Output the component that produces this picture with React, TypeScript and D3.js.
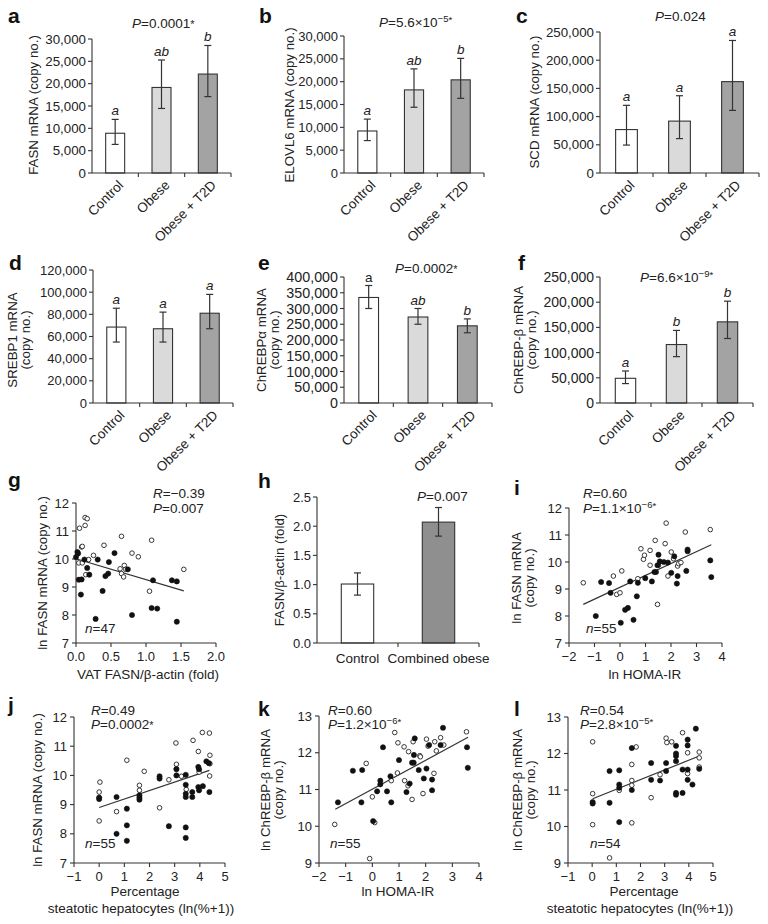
import React from "react";
import * as d3 from "d3";

const FONT = "'Liberation Sans', Arial, sans-serif";
const TXT = "#222";

// ---------- bar data ----------
const cats3 = ["Control", "Obese", "Obese + T2D"];
const fills3 = ["#ffffff", "#dadada", "#a3a3a3"];

const fasnMean = [8900, 19150, 22150];
const fasnLo = [6400, 14450, 17100];
const fasnHi = [12000, 25300, 28550];

const elovlMean = [9200, 18200, 20400];
const elovlLo = [7100, 14400, 16350];
const elovlHi = [11800, 22800, 25100];

const scdMean = [77000, 92000, 162000];
const scdLo = [49500, 61000, 111000];
const scdHi = [120000, 137000, 235000];

const srebpMean = [68500, 67000, 81000];
const srebpLo = [55000, 55000, 67000];
const srebpHi = [85500, 82000, 98000];

const chrebpaMean = [335000, 273000, 245000];
const chrebpaLo = [300000, 250000, 223000];
const chrebpaHi = [373000, 300000, 267000];

const chrebpbMean = [49000, 116000, 161000];
const chrebpbLo = [38500, 92000, 128000];
const chrebpbHi = [63500, 144000, 202000];

const cats2 = ["Control", "Combined obese"];
const fills2 = ["#ffffff", "#8f8f8f"];
const vatMean = [1.01, 2.07];
const vatLo = [0.82, 1.83];
const vatHi = [1.2, 2.32];

// ---------- scatter data ----------
const gOpen: [number, number][] = [
  [0.05, 11.1], [0.13, 11.48], [0.16, 11.44], [0.13, 11.2], [0.08, 10.43], [0.09, 10.45],
  [0.04, 9.86], [0.09, 9.86], [0.14, 9.44], [0.18, 9.98], [0.25, 10.13], [0.4, 10.49],
  [0.65, 10.81], [0.63, 9.65], [0.65, 9.48], [0.68, 9.36], [0.69, 9.77], [0.71, 9.63],
  [0.8, 10.21], [0.89, 10.08], [1.08, 10.67], [1.05, 8.85], [1.54, 9.63],
];
const gFilled: [number, number][] = [
  [0.02, 10.25], [0.0, 10.07], [0.03, 10.2], [0.04, 9.26], [0.08, 9.27], [0.07, 8.73],
  [0.12, 9.98], [0.16, 9.68], [0.19, 9.44], [0.31, 9.98], [0.28, 7.86], [0.38, 8.86],
  [0.42, 9.39], [0.46, 9.48], [0.47, 9.89], [0.55, 10.21], [0.74, 9.63], [0.8, 8.0],
  [1.08, 8.25], [1.1, 9.24], [1.16, 8.23], [1.37, 9.24], [1.44, 9.2], [1.44, 7.76],
];
const gFit = [0.01, 10.0, 1.54, 8.86];

const iOpen: [number, number][] = [
  [-1.44, 9.23], [-0.26, 9.48], [-0.13, 8.8], [0.0, 8.86], [0.07, 9.67], [0.7, 9.38],
  [0.82, 10.49], [0.92, 10.1], [0.96, 10.25], [1.18, 10.43], [1.18, 9.88], [1.38, 10.8],
  [1.47, 8.43], [1.51, 9.88], [1.77, 10.68], [1.81, 11.44], [1.88, 9.48], [2.01, 10.37],
  [2.1, 10.12], [2.26, 9.85], [2.3, 9.94], [2.39, 9.98], [2.56, 11.11], [3.54, 11.2],
];
const iFilled: [number, number][] = [
  [-0.95, 8.0], [-0.74, 9.26], [-0.43, 9.22], [-0.37, 8.86], [0.03, 7.75], [0.2, 8.23],
  [0.31, 8.3], [0.4, 9.28], [0.53, 7.86], [0.66, 8.73], [0.7, 9.23], [0.99, 9.4],
  [1.25, 9.28], [1.35, 9.63], [1.41, 9.63], [1.47, 9.88], [1.51, 10.27], [1.56, 10.02],
  [1.72, 10.0], [1.88, 9.98], [2.01, 9.6], [2.13, 10.21], [2.23, 9.2], [2.26, 9.48],
  [2.6, 9.67], [2.65, 10.46], [2.65, 10.4], [3.54, 10.06], [3.58, 9.44],
];
const iFit = [-1.44, 8.43, 3.58, 10.64];

const jOpen: [number, number][] = [
  [0.03, 9.77], [0.0, 9.43], [0.0, 8.44], [0.69, 8.76], [1.1, 10.52], [1.79, 10.14],
  [1.6, 9.66], [1.6, 9.49], [2.4, 8.89], [2.77, 9.85], [3.05, 11.11], [3.07, 10.38],
  [3.07, 10.23], [3.27, 9.97], [3.46, 9.52], [3.73, 11.2], [3.94, 10.82], [3.97, 10.11],
  [4.1, 11.47], [4.38, 11.45], [4.4, 10.69], [4.4, 10.4], [4.39, 9.98],
];
const jFilled: [number, number][] = [
  [0.0, 9.24], [0.0, 9.19], [0.69, 9.26], [0.69, 8.0], [1.1, 8.86], [1.1, 8.29],
  [1.1, 7.76], [1.6, 9.32], [1.6, 9.24], [1.6, 9.17], [2.4, 9.97], [2.4, 9.89],
  [2.77, 8.26], [3.07, 10.21], [3.07, 10.0], [3.44, 10.02], [3.44, 9.68], [3.44, 9.37],
  [3.44, 9.26], [3.44, 8.22], [3.44, 7.86], [3.7, 9.43], [3.7, 9.26], [3.94, 9.6],
  [3.97, 9.49], [3.94, 10.29], [3.97, 10.21], [4.12, 9.63], [4.26, 10.48], [4.36, 10.42],
  [4.38, 9.43],
];
const jFit = [0.0, 8.9, 4.38, 10.17];

const kOpen: [number, number][] = [
  [-1.41, 10.05], [-0.23, 11.71], [-0.1, 9.12], [0.0, 10.8], [0.09, 10.1], [0.71, 11.24],
  [0.84, 12.55], [0.96, 12.27], [0.94, 11.45], [1.19, 12.16], [1.21, 11.24], [1.34, 11.1],
  [1.36, 12.03], [1.49, 10.73], [1.53, 12.3], [1.78, 11.92], [1.8, 11.89], [1.9, 10.89],
  [2.03, 12.37], [2.09, 12.18], [2.31, 11.44], [2.34, 12.3], [2.4, 12.05], [2.56, 12.41],
  [2.68, 12.21], [3.53, 12.57],
];
const kFilled: [number, number][] = [
  [-1.29, 10.65], [-0.73, 11.51], [-0.38, 11.53], [-0.41, 10.65], [0.03, 10.14], [0.18, 10.95],
  [0.3, 11.24], [0.3, 11.14], [0.4, 12.15], [0.55, 10.95], [0.68, 11.36], [0.71, 10.65],
  [1.0, 11.8], [1.28, 10.93], [1.4, 11.16], [1.49, 11.73], [1.55, 11.73], [1.56, 11.94],
  [1.59, 12.39], [1.74, 11.53], [1.93, 11.3], [2.03, 11.57], [2.13, 12.21], [2.24, 11.27],
  [2.24, 10.98], [2.56, 12.21], [2.65, 12.68], [3.55, 12.15], [3.58, 11.59],
];
const kFit = [-1.39, 10.46, 3.59, 12.42];

const lOpen: [number, number][] = [
  [0.02, 12.32], [0.02, 10.9], [0.02, 10.05], [0.72, 9.14], [1.12, 10.99], [1.64, 11.7],
  [1.64, 11.26], [1.64, 11.13], [1.64, 10.1], [1.82, 12.18], [2.44, 10.79], [2.81, 11.42],
  [3.06, 12.42], [3.09, 12.3], [3.29, 12.32], [3.74, 12.57], [3.95, 12.02], [3.95, 11.45],
  [4.43, 12.04], [4.43, 11.88], [4.43, 11.63],
];
const lFilled: [number, number][] = [
  [0.02, 10.67], [0.02, 10.63], [0.72, 11.52], [0.72, 10.65], [1.12, 11.54], [1.12, 11.15],
  [1.12, 11.06], [1.12, 10.12], [1.64, 12.15], [1.64, 11.0], [2.44, 11.74], [2.44, 11.28],
  [2.81, 11.26], [3.06, 11.74], [3.06, 11.52], [3.47, 12.21], [3.47, 12.0], [3.47, 11.93],
  [3.47, 11.79], [3.47, 10.92], [3.47, 10.87], [3.74, 11.56], [3.74, 10.92], [3.95, 12.38],
  [3.95, 12.22], [3.95, 11.56], [3.95, 11.28], [4.15, 11.15], [4.29, 12.68], [4.43, 11.58],
];
const lFit = [0.02, 10.76, 4.43, 11.93];

// ---------- helpers ----------
type StatProps = { x: number; y: number; label: string; main: string; sup?: string; star?: boolean };
function Stat({ x, y, label, main, sup, star }: StatProps) {
  return (
    <text x={x} y={y} fontSize={13.5} fill={TXT} fontFamily={FONT}>
      <tspan fontStyle="italic">{label}</tspan>
      <tspan>{main}</tspan>
      {sup && (
        <tspan dy={-5} fontSize={9.5}>
          {sup}
        </tspan>
      )}
      {star && <tspan fontSize={sup ? 9.5 : 11} dy={sup ? 1 : 0}>*</tspan>}
    </text>
  );
}

function PanelLetter({ x, y, t }: { x: number; y: number; t: string }) {
  return (
    <text x={x} y={y} fontSize={21} fontWeight="bold" fill="#111" fontFamily={FONT}>
      {t}
    </text>
  );
}

function YTitle({ x, y, lines, gap = 13.5 }: { x: number; y: number; lines: string[]; gap?: number }) {
  return (
    <g transform={`translate(${x},${y}) rotate(-90)`}>
      {lines.map((l, i) => (
        <text
          key={i}
          x={0}
          y={(i - (lines.length - 1) / 2) * gap}
          textAnchor="middle"
          dominantBaseline="central"
          fontSize={13.3}
          fill={TXT}
          fontFamily={FONT}
        >
          {l}
        </text>
      ))}
    </g>
  );
}

type BarCfg = {
  x0: number; x1: number; yTop: number; yBot: number; max: number; step: number;
  cats: string[]; fills: string[]; mean: number[]; lo: number[]; hi: number[];
  letters?: string[]; italicLetters?: boolean[]; rotate: boolean; pad: number;
  tickFmt: (v: number) => string; tickSize: number;
};

function BarPanel({ c }: { c: BarCfg }) {
  const x = d3.scaleBand<string>().domain(c.cats).range([c.x0, c.x1]).paddingInner(c.pad).paddingOuter(c.pad / 2);
  const y = d3.scaleLinear().domain([0, c.max]).range([c.yBot, c.yTop]);
  const ticks = d3.range(0, c.max + c.step / 2, c.step);
  const stepW = x.step();
  const bw = x.bandwidth();
  return (
    <g fontFamily={FONT}>
      {c.cats.map((k, i) => {
        const cx = (x(k) as number) + bw / 2;
        return (
          <g key={k}>
            <rect x={x(k)} y={y(c.mean[i])} width={bw} height={c.yBot - y(c.mean[i])} fill={c.fills[i]} stroke="#333" strokeWidth={1.1} />
            <line x1={cx} x2={cx} y1={y(c.lo[i])} y2={y(c.hi[i])} stroke="#333" strokeWidth={1.2} />
            <line x1={cx - 3.5} x2={cx + 3.5} y1={y(c.lo[i])} y2={y(c.lo[i])} stroke="#333" strokeWidth={1.2} />
            <line x1={cx - 3.5} x2={cx + 3.5} y1={y(c.hi[i])} y2={y(c.hi[i])} stroke="#333" strokeWidth={1.2} />
            {c.letters && (
              <text x={cx} y={y(c.hi[i]) - 4} textAnchor="middle" fontSize={13.5} fill={TXT}
                fontStyle={c.italicLetters && !c.italicLetters[i] ? "normal" : "italic"}>
                {c.letters[i]}
              </text>
            )}
            {c.rotate ? (
              <text transform={`translate(${cx + 9},${c.yBot + 13}) rotate(-45)`} textAnchor="end" fontSize={13.5} fill={TXT}>
                {k}
              </text>
            ) : (
              <text x={cx} y={c.yBot + 20} textAnchor="middle" fontSize={13.5} fill={TXT}>
                {k}
              </text>
            )}
          </g>
        );
      })}
      <line x1={c.x0} x2={c.x0} y1={c.yTop} y2={c.yBot} stroke="#333" strokeWidth={1.1} />
      <line x1={c.x0} x2={c.x1} y1={c.yBot} y2={c.yBot} stroke="#333" strokeWidth={1.1} />
      {ticks.map((t) => (
        <g key={t}>
          <line x1={c.x0 - 4} x2={c.x0} y1={y(t)} y2={y(t)} stroke="#333" strokeWidth={1.1} />
          <text x={c.x0 - 6} y={y(t)} textAnchor="end" dominantBaseline="central" fontSize={c.tickSize} fill={TXT}>
            {c.tickFmt(t)}
          </text>
        </g>
      ))}
      {c.cats.map((k, i) => (
        <line key={k} x1={c.x0 + (i + 1) * stepW} x2={c.x0 + (i + 1) * stepW} y1={c.yBot} y2={c.yBot + 4} stroke="#333" strokeWidth={1.1} />
      ))}
    </g>
  );
}

type ScCfg = {
  xd: [number, number]; xr: [number, number]; yd: [number, number]; yr: [number, number];
  xStep: number; yStep: number; open: [number, number][]; filled: [number, number][];
  fit: number[]; xFmt: (v: number) => string;
};

function ScatterPanel({ c }: { c: ScCfg }) {
  const x = d3.scaleLinear().domain(c.xd).range(c.xr);
  const y = d3.scaleLinear().domain(c.yd).range(c.yr);
  const xt = d3.range(c.xd[0], c.xd[1] + c.xStep / 2, c.xStep);
  const yt = d3.range(c.yd[0], c.yd[1] + c.yStep / 2, c.yStep);
  const line = d3.line<[number, number]>().x((d) => x(d[0])).y((d) => y(d[1]));
  const fitPts: [number, number][] = [[c.fit[0], c.fit[1]], [c.fit[2], c.fit[3]]];
  return (
    <g fontFamily={FONT}>
      <line x1={c.xr[0]} x2={c.xr[0]} y1={c.yr[0]} y2={c.yr[1]} stroke="#333" strokeWidth={1.1} />
      <line x1={c.xr[0]} x2={c.xr[1]} y1={c.yr[0]} y2={c.yr[0]} stroke="#333" strokeWidth={1.1} />
      {yt.map((t) => (
        <g key={"y" + t}>
          <line x1={c.xr[0] - 4} x2={c.xr[0]} y1={y(t)} y2={y(t)} stroke="#333" strokeWidth={1.1} />
          <text x={c.xr[0] - 7} y={y(t)} textAnchor="end" dominantBaseline="central" fontSize={13} fill={TXT}>
            {t}
          </text>
        </g>
      ))}
      {xt.map((t) => (
        <g key={"x" + t}>
          <line x1={x(t)} x2={x(t)} y1={c.yr[0]} y2={c.yr[0] + 4} stroke="#333" strokeWidth={1.1} />
          <text x={x(t)} y={c.yr[0] + 18} textAnchor="middle" fontSize={13} fill={TXT}>
            {c.xFmt(t)}
          </text>
        </g>
      ))}
      <path d={line(fitPts) || ""} stroke="#333" strokeWidth={1.2} fill="none" />
      {c.open.map((d, i) => (
        <circle key={"o" + i} cx={x(d[0])} cy={y(d[1])} r={2.3} fill="#fff" stroke="#222" strokeWidth={0.9} />
      ))}
      {c.filled.map((d, i) => (
        <circle key={"f" + i} cx={x(d[0])} cy={y(d[1])} r={2.6} fill="#111" stroke="#111" strokeWidth={0.6} />
      ))}
    </g>
  );
}

const comma = d3.format(",");
const oneDec = d3.format(".1f");
const minusInt = (v: number) => (v < 0 ? "\u2212" + Math.abs(v) : String(v));

export default function App() {
  return (
    <svg width={768} height={924} style={{ position: "absolute", left: 0, top: 0, background: "#fff" }}>
      <rect width={768} height={924} fill="#fff" />
      {/* a */}
      <PanelLetter x={8} y={23} t="a" />
      <Stat x={132} y={28} label="P" main="=0.0001" star />
      <YTitle x={33} y={105} lines={["FASN mRNA (copy no.)"]} />
      <BarPanel c={{ x0: 92, x1: 231, yTop: 39, yBot: 173, max: 30000, step: 5000, cats: cats3, fills: fills3, mean: fasnMean, lo: fasnLo, hi: fasnHi, letters: ["a", "ab", "b"], rotate: true, pad: 0.59, tickFmt: comma, tickSize: 13.3 }} />
      {/* b */}
      <PanelLetter x={259} y={23} t="b" />
      <Stat x={379} y={27} label="P" main="=5.6×10" sup={"\u22125"} star />
      <YTitle x={289} y={105} lines={["ELOVL6 mRNA (copy no.)"]} />
      <BarPanel c={{ x0: 344, x1: 484, yTop: 36, yBot: 173, max: 30000, step: 5000, cats: cats3, fills: fills3, mean: elovlMean, lo: elovlLo, hi: elovlHi, letters: ["a", "ab", "b"], rotate: true, pad: 0.59, tickFmt: comma, tickSize: 13 }} />
      {/* c */}
      <PanelLetter x={516} y={23} t="c" />
      <Stat x={655} y={21} label="P" main="=0.024" />
      <YTitle x={534} y={102} lines={["SCD mRNA (copy no.)"]} />
      <BarPanel c={{ x0: 600, x1: 759, yTop: 32, yBot: 173, max: 250000, step: 50000, cats: cats3, fills: fills3, mean: scdMean, lo: scdLo, hi: scdHi, letters: ["a", "a", "a"], rotate: true, pad: 0.59, tickFmt: comma, tickSize: 13.3 }} />
      {/* d */}
      <PanelLetter x={9} y={270} t="d" />
      <YTitle x={19} y={340} lines={["SREBP1 mRNA", "(copy no.)"]} />
      <BarPanel c={{ x0: 93, x1: 233, yTop: 270, yBot: 403, max: 120000, step: 20000, cats: cats3, fills: fills3, mean: srebpMean, lo: srebpLo, hi: srebpHi, letters: ["a", "a", "a"], rotate: true, pad: 0.59, tickFmt: comma, tickSize: 13 }} />
      {/* e */}
      <PanelLetter x={258} y={270} t="e" />
      <Stat x={395} y={273} label="P" main="=0.0002" star />
      <YTitle x={268} y={340} lines={["ChREBPα mRNA", "(copy no.)"]} />
      <BarPanel c={{ x0: 344, x1: 492, yTop: 277, yBot: 403, max: 400000, step: 50000, cats: cats3, fills: fills3, mean: chrebpaMean, lo: chrebpaLo, hi: chrebpaHi, letters: ["a", "ab", "b"], italicLetters: [false, true, true], rotate: true, pad: 0.6, tickFmt: comma, tickSize: 14.3 }} />
      {/* f */}
      <PanelLetter x={518} y={270} t="f" />
      <Stat x={640} y={282} label="P" main="=6.6×10" sup={"\u22129"} star />
      <YTitle x={525} y={340} lines={["ChREBP-β mRNA", "(copy no.)"]} />
      <BarPanel c={{ x0: 600, x1: 753, yTop: 277, yBot: 403, max: 250000, step: 50000, cats: cats3, fills: fills3, mean: chrebpbMean, lo: chrebpbLo, hi: chrebpbHi, letters: ["a", "b", "b"], rotate: true, pad: 0.6, tickFmt: comma, tickSize: 14 }} />
      {/* g */}
      <PanelLetter x={8} y={487} t="g" />
      <YTitle x={42} y={573} lines={["ln FASN mRNA (copy no.)"]} />
      <ScatterPanel c={{ xd: [0, 2], xr: [76, 216], yd: [7, 12], yr: [643, 503], xStep: 0.5, yStep: 1, open: gOpen, filled: gFilled, fit: gFit, xFmt: oneDec }} />
      <Stat x={153} y={498} label="R" main={"=\u22120.39"} />
      <Stat x={153} y={513} label="P" main="=0.007" />
      <Stat x={85} y={633} label="n" main="=47" />
      <text x={148} y={679} textAnchor="middle" fontSize={13.5} fill={TXT} fontFamily={FONT}>VAT FASN/β-actin (fold)</text>
      {/* h */}
      <PanelLetter x={258} y={488} t="h" />
      <Stat x={417} y={501} label="P" main="=0.007" />
      <YTitle x={279} y={570} lines={["FASN/β-actin (fold)"]} />
      <BarPanel c={{ x0: 317, x1: 479, yTop: 497, yBot: 643, max: 2.5, step: 0.5, cats: cats2, fills: fills2, mean: vatMean, lo: vatLo, hi: vatHi, rotate: false, pad: 0.6, tickFmt: oneDec, tickSize: 13 }} />
      {/* i */}
      <PanelLetter x={514} y={495} t="i" />
      <YTitle x={523} y={578} lines={["ln FASN mRNA", "(copy no.)"]} />
      <ScatterPanel c={{ xd: [-2, 4], xr: [569, 722], yd: [7, 12], yr: [643, 508], xStep: 1, yStep: 1, open: iOpen, filled: iFilled, fit: iFit, xFmt: minusInt }} />
      <Stat x={583} y={498} label="R" main="=0.60" />
      <Stat x={583} y={513} label="P" main="=1.1×10" sup={"\u22126"} star />
      <Stat x={586} y={633} label="n" main="=55" />
      <text x={645} y={679} textAnchor="middle" fontSize={13.5} fill={TXT} fontFamily={FONT}>ln HOMA-IR</text>
      {/* j */}
      <PanelLetter x={8} y={712} t="j" />
      <YTitle x={37} y={790} lines={["ln FASN mRNA (copy no.)"]} />
      <ScatterPanel c={{ xd: [-1, 5], xr: [74, 225], yd: [7, 12], yr: [863, 717], xStep: 1, yStep: 1, open: jOpen, filled: jFilled, fit: jFit, xFmt: minusInt }} />
      <Stat x={91} y={715} label="R" main="=0.49" />
      <Stat x={91} y={729} label="P" main="=0.0002" star />
      <Stat x={85} y={848} label="n" main="=55" />
      <text x={145} y={896} textAnchor="middle" fontSize={13.5} fill={TXT} fontFamily={FONT}>Percentage</text>
      <text x={141} y={913} textAnchor="middle" fontSize={13.5} fill={TXT} fontFamily={FONT}>steatotic hepatocytes (ln(%+1))</text>
      {/* k */}
      <PanelLetter x={258} y={716} t="k" />
      <YTitle x={272} y={790} lines={["ln ChREBP-β mRNA", "(copy no.)"]} />
      <ScatterPanel c={{ xd: [-2, 4], xr: [319, 479], yd: [9, 13], yr: [863, 716], xStep: 1, yStep: 1, open: kOpen, filled: kFilled, fit: kFit, xFmt: minusInt }} />
      <Stat x={328} y={715} label="R" main="=0.60" />
      <Stat x={328} y={729} label="P" main="=1.2×10" sup={"\u22126"} star />
      <Stat x={330} y={848} label="n" main="=55" />
      <text x={398} y={896} textAnchor="middle" fontSize={13.5} fill={TXT} fontFamily={FONT}>ln HOMA-IR</text>
      {/* l */}
      <PanelLetter x={514} y={716} t="l" />
      <YTitle x={524} y={790} lines={["ln ChREBP-β mRNA", "(copy no.)"]} />
      <ScatterPanel c={{ xd: [-1, 5], xr: [568, 713], yd: [9, 13], yr: [863, 717], xStep: 1, yStep: 1, open: lOpen, filled: lFilled, fit: lFit, xFmt: minusInt }} />
      <Stat x={580} y={715} label="R" main="=0.54" />
      <Stat x={580} y={729} label="P" main="=2.8×10" sup={"\u22125"} star />
      <Stat x={590} y={848} label="n" main="=54" />
      <text x={644} y={896} textAnchor="middle" fontSize={13.5} fill={TXT} fontFamily={FONT}>Percentage</text>
      <text x={640} y={913} textAnchor="middle" fontSize={13.5} fill={TXT} fontFamily={FONT}>steatotic hepatocytes (ln(%+1))</text>
    </svg>
  );
}
